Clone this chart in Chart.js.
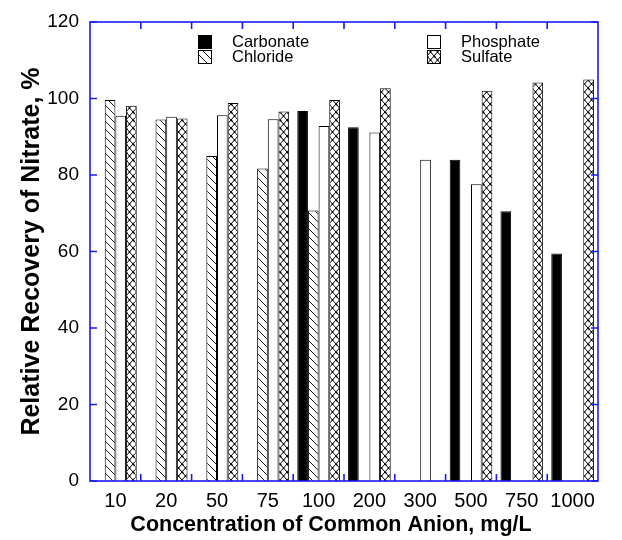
<!DOCTYPE html>
<html>
<head>
<meta charset="utf-8">
<script src="https://cdn.jsdelivr.net/npm/chart.js@4.4.0/dist/chart.umd.min.js"></script>
<style>
  html, body { margin: 0; padding: 0; background: #fff; }
  #wrap { width: 622px; height: 540px; }
</style>
</head>
<body>
<div id="wrap"><canvas id="barChart" width="622" height="540"></canvas></div>
<script>
// datos
const concentraciones = ["10", "20", "50", "75", "100", "200", "300", "500", "750", "1000"];
const carbonato = [null, null, null, null, 96.7, 92.5, null, 84.0, 70.5, 59.5];
const cloruro = [99.6, 94.5, 85.0, 81.7, 70.7, null, null, null, null, null];
const fosfato = [95.5, 95.2, 95.6, 94.6, 92.8, 91.1, 84.0, 77.6, null, null];
const sulfato = [98.1, 94.8, 98.8, 96.6, 99.6, 102.7, null, 102.0, 104.2, 105.0];
const ticksY = [0, 20, 40, 60, 80, 100, 120];
const tituloX = "Concentration of Common Anion, mg/L";

const azul = "#1a1aff";
const fuente = "'Liberation Sans', Arial, sans-serif";

// patron de rayas diagonales
function rayado() {
    const c = document.createElement("canvas");
    c.width = 8; c.height = 8;
    const g = c.getContext("2d");
    g.fillStyle = "#fff";
    g.fillRect(0, 0, 8, 8);
    g.strokeStyle = "#000";
    g.lineWidth = 0.9;
    g.beginPath();
    g.moveTo(-1, -1); g.lineTo(9, 9);
    g.moveTo(-1, 7); g.lineTo(1, 9);
    g.moveTo(7, -1); g.lineTo(9, 1);
    g.stroke();
    return g.createPattern(c, "repeat");
}

// patron cuadriculado en diagonal
function cruzado() {
    const c = document.createElement("canvas");
    c.width = 7; c.height = 8;
    const g = c.getContext("2d");
    g.fillStyle = "#fff";
    g.fillRect(0, 0, 7, 8);
    g.strokeStyle = "#000";
    g.lineWidth = 1;
    g.beginPath();
    g.moveTo(0, 0); g.lineTo(7, 8);
    g.moveTo(7, 0); g.lineTo(0, 8);
    g.stroke();
    g.fillStyle = "#000";
    g.fillRect(0, 0, 1.5, 1.5);
    g.fillRect(2.8, 3.3, 1.5, 1.5);
    return g.createPattern(c, "repeat");
}

// ejes con marcas hacia dentro, titulo del eje x y leyenda dentro del grafico
const marcosPlugin = {
    id: "marcos",
    afterDraw(chart) {
        const ctx = chart.ctx;
        const a = chart.chartArea;
        const x = chart.scales.x;
        const y = chart.scales.y;
        ctx.save();
        ctx.strokeStyle = azul;
        ctx.lineWidth = 1.6;
        ctx.strokeRect(a.left, a.top, a.right - a.left, a.bottom - a.top);
        ctx.beginPath();
        const n = concentraciones.length;
        for (let i = 1; i < n; i++) {
            const px = (x.getPixelForValue(i - 1) + x.getPixelForValue(i)) / 2;
            ctx.moveTo(px, a.bottom); ctx.lineTo(px, a.bottom - 7);
            ctx.moveTo(px, a.top); ctx.lineTo(px, a.top + 7);
        }
        ticksY.forEach(v => {
            const py = y.getPixelForValue(v);
            ctx.moveTo(a.left, py); ctx.lineTo(a.left + 7, py);
            ctx.moveTo(a.right, py); ctx.lineTo(a.right - 7, py);
        });
        ctx.stroke();

        // titulo eje x (un poco a la izquierda del centro, como en la figura)
        ctx.fillStyle = "#000";
        ctx.font = "bold 21.5px " + fuente;
        ctx.textAlign = "center";
        ctx.textBaseline = "middle";
        ctx.fillText(tituloX, 331, 525);

        // leyenda
        const pos = [[198, 35], [198, 50], [427, 35], [427, 50]];
        ctx.font = "16.5px " + fuente;
        ctx.textAlign = "left";
        chart.data.datasets.forEach((ds, i) => {
            const [lx, ly] = pos[i];
            ctx.fillStyle = ds.backgroundColor;
            ctx.fillRect(lx, ly, 13, 13);
            ctx.strokeStyle = "#000";
            ctx.lineWidth = 1;
            ctx.strokeRect(lx + 0.5, ly + 0.5, 13, 13);
            ctx.fillStyle = "#000";
            ctx.fillText(ds.label, lx + 34, ly + 7);
        });
        ctx.restore();
    }
};

const ctx = document.getElementById("barChart").getContext("2d");
const conjuntos = [
    { label: "Carbonate", data: carbonato, backgroundColor: "#000" },
    { label: "Chloride", data: cloruro, backgroundColor: rayado() },
    { label: "Phosphate", data: fosfato, backgroundColor: "#fff" },
    { label: "Sulfate", data: sulfato, backgroundColor: cruzado() },
].map(d => Object.assign(d, {
    borderColor: "#000",
    borderWidth: 1,
    borderSkipped: "bottom",
    categoryPercentage: 0.84,
    barPercentage: 1.0,
}));

new Chart(ctx, {
    type: "bar",
    data: { labels: concentraciones, datasets: conjuntos },
    options: {
        responsive: false,
        animation: false,
        layout: { padding: { top: 22, right: 24, left: 0, bottom: 0 } },
        plugins: { legend: { display: false }, tooltip: { enabled: false } },
        scales: {
            x: {
                grid: { display: false },
                border: { display: false },
                ticks: { color: "#000", font: { size: 20, family: fuente }, padding: 0 },
                afterFit(s) { s.height = 59; }
            },
            y: {
                min: 0,
                max: 120,
                grid: { display: false },
                border: { display: false },
                ticks: {
                    stepSize: 20,
                    color: "#000",
                    font: { size: 19, family: fuente },
                    padding: 3
                },
                title: {
                    display: true,
                    text: "Relative Recovery of Nitrate, %",
                    color: "#000",
                    font: { size: 25, weight: "bold", family: fuente },
                    padding: { top: 17, bottom: 0 }
                },
                afterFit(s) { s.width = 90; }
            }
        }
    },
    plugins: [marcosPlugin]
});
</script>
</body>
</html>
